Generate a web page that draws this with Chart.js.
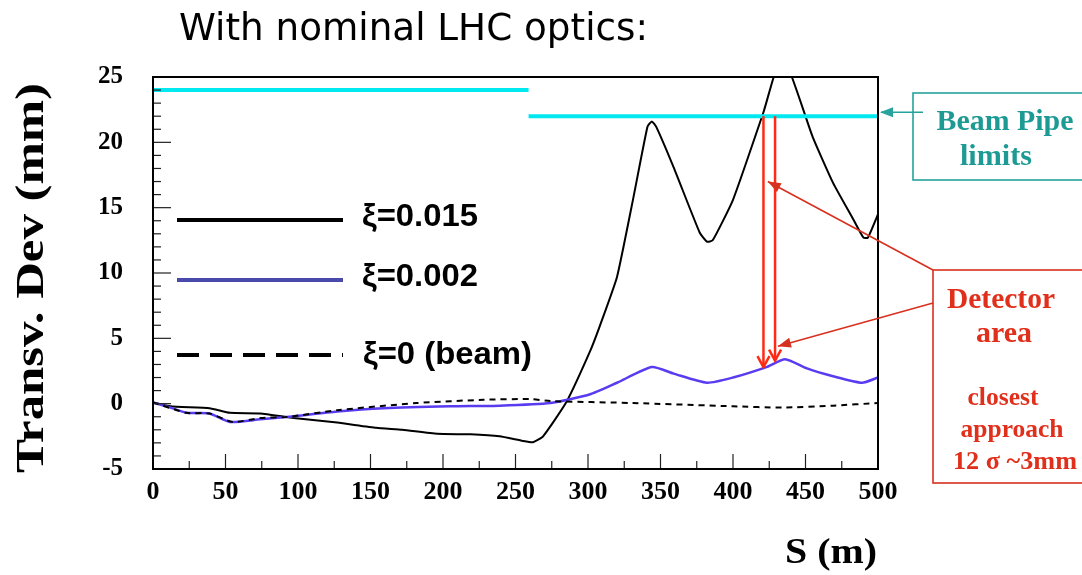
<!DOCTYPE html>
<html>
<head>
<meta charset="utf-8">
<script src="https://cdn.jsdelivr.net/npm/chart.js@4.4.1/dist/chart.umd.min.js"></script>
<style>
  html, body { margin: 0; padding: 0; background: #fff; }
  #wrap { width: 1082px; height: 575px; }
</style>
</head>
<body>
<div id="wrap"><canvas id="orbitChart" width="1082" height="575"></canvas></div>
<script>
// transverse deviation along S for each xi value
const s015 = [0, 12, 39, 53, 74, 97, 127, 154, 172, 196, 219, 239, 255, 262, 269, 285, 301, 308, 320, 331, 341, 344, 347, 359, 377, 382, 386, 400, 421, 434, 455, 469, 483, 490, 493, 500];
const dev015 = [0.1, -0.2, -0.35, -0.7, -0.75, -1.1, -1.45, -1.85, -2.0, -2.3, -2.35, -2.5, -2.85, -2.95, -2.5, 0.1, 3.9, 5.9, 9.7, 15.6, 21.2, 21.6, 21.2, 18.1, 13.1, 12.4, 12.5, 15.6, 22.3, 26.7, 20.4, 16.9, 14.1, 12.7, 12.7, 14.5];

const s002 = [0, 12, 23, 39, 53, 74, 94, 127, 159, 205, 239, 274, 301, 320, 344, 359, 382, 400, 423, 436, 451, 469, 489, 500];
const dev002 = [0.1, -0.3, -0.7, -0.75, -1.4, -1.2, -1.0, -0.6, -0.35, -0.2, -0.15, 0.05, 0.7, 1.6, 2.8, 2.3, 1.6, 2.0, 2.8, 3.4, 2.7, 2.1, 1.6, 2.0];

const sBeam = [0, 23, 39, 55, 74, 94, 127, 182, 228, 260, 274, 331, 400, 434, 469, 500];
const devBeam = [0.1, -0.7, -0.75, -1.4, -1.1, -1.0, -0.5, 0.05, 0.3, 0.35, 0.2, 0.05, -0.2, -0.3, -0.15, 0.05];

// beam pipe aperture (two sections)
const pipeS1 = [0, 259];
const pipeLimit1 = 24;
const pipeS2 = [259, 500];
const pipeLimit2 = 22;

// detector area arrows: from pipe limit down to the xi=0.002 orbit
const arrowS = [421, 429];
const arrowTop = [22, 22];
const arrowTip = [2.8, 3.3];
// where the callout lines touch the arrows
const calloutS = [424, 431];
const calloutDev = [17, 4.4];

const xTicks = [0, 50, 100, 150, 200, 250, 300, 350, 400, 450, 500];
const yTicks = [-5, 0, 5, 10, 15, 20, 25];
const minorS = 25;
const minorDev = 1;

const toPts = (xs, ys) => xs.map((x, i) => ({ x: x, y: ys[i] }));

function fitText(ctx, text, x, y, font, color, align, width) {
  ctx.save();
  ctx.font = font;
  ctx.fillStyle = color;
  ctx.textBaseline = 'alphabetic';
  ctx.textAlign = align;
  const k = width ? width / ctx.measureText(text).width : 1;
  ctx.translate(x, y);
  ctx.scale(k, 1);
  ctx.fillText(text, 0, 0);
  ctx.restore();
}

function seg(ctx, x1, y1, x2, y2) {
  ctx.beginPath();
  ctx.moveTo(x1, y1);
  ctx.lineTo(x2, y2);
  ctx.stroke();
}

function filledHead(ctx, fx, fy, tx, ty, len, half) {
  const a = Math.atan2(ty - fy, tx - fx);
  ctx.beginPath();
  ctx.moveTo(tx, ty);
  ctx.lineTo(tx - len * Math.cos(a) + half * Math.sin(a), ty - len * Math.sin(a) - half * Math.cos(a));
  ctx.lineTo(tx - len * Math.cos(a) - half * Math.sin(a), ty - len * Math.sin(a) + half * Math.cos(a));
  ctx.closePath();
  ctx.fill();
}

const decorations = {
  id: 'decorations',
  afterDatasetsDraw(chart) {
    const ctx = chart.ctx;
    const xs = chart.scales.x, ys = chart.scales.y, a = chart.chartArea;

    // inward ticks + frame
    ctx.save();
    ctx.strokeStyle = '#222';
    ctx.lineWidth = 1.2;
    for (let s = 0; s <= 500; s += minorS) {
      const px = xs.getPixelForValue(s);
      seg(ctx, px, a.bottom, px, a.bottom - (s % 50 === 0 ? 15 : 8));
    }
    for (let v = -5; v <= 25; v += minorDev) {
      const py = ys.getPixelForValue(v);
      seg(ctx, a.left, py, a.left + (v % 5 === 0 ? 18 : 8), py);
    }
    ctx.lineWidth = 2;
    ctx.strokeStyle = '#000';
    ctx.strokeRect(a.left, a.top, a.right - a.left, a.bottom - a.top);
    ctx.restore();

    // legend
    ctx.save();
    ctx.lineWidth = 4;
    ctx.strokeStyle = '#000';
    seg(ctx, 177, 220, 343, 220);
    ctx.strokeStyle = '#4a4aaa';
    seg(ctx, 177, 280, 343, 280);
    ctx.strokeStyle = '#000';
    ctx.setLineDash([22, 11]);
    seg(ctx, 177, 355, 343, 355);
    ctx.setLineDash([]);
    ctx.restore();
    fitText(ctx, 'ξ=0.015', 362, 226, 'bold 32px "Liberation Sans"', '#000', 'left', 116);
    fitText(ctx, 'ξ=0.002', 362, 286, 'bold 32px "Liberation Sans"', '#000', 'left', 116);
    fitText(ctx, 'ξ=0 (beam)', 363, 364, 'bold 32px "Liberation Sans"', '#000', 'left', 169);

    // detector arrows
    ctx.save();
    ctx.strokeStyle = '#ff2a14';
    ctx.lineWidth = 2.5;
    for (let i = 0; i < arrowS.length; i++) {
      const px = xs.getPixelForValue(arrowS[i]);
      const y1 = ys.getPixelForValue(arrowTop[i]);
      const y2 = ys.getPixelForValue(arrowTip[i]);
      seg(ctx, px, y1, px, y2);
      ctx.beginPath();
      ctx.moveTo(px - 6, y2 - 11);
      ctx.lineTo(px, y2);
      ctx.lineTo(px + 6, y2 - 11);
      ctx.stroke();
    }
    ctx.restore();

    // callouts
    ctx.save();
    ctx.strokeStyle = '#d8301e';
    ctx.fillStyle = '#d8301e';
    ctx.lineWidth = 1.6;
    const starts = [[933, 270], [933, 303]];
    for (let i = 0; i < calloutS.length; i++) {
      const tx = xs.getPixelForValue(calloutS[i]);
      const ty = ys.getPixelForValue(calloutDev[i]);
      seg(ctx, starts[i][0], starts[i][1], tx, ty);
      filledHead(ctx, starts[i][0], starts[i][1], tx, ty, 13, 5);
    }
    ctx.strokeRect(933, 270, 200, 213);

    ctx.strokeStyle = '#25a39c';
    ctx.fillStyle = '#25a39c';
    ctx.strokeRect(913, 93, 200, 87);
    const pipeY = ys.getPixelForValue(pipeLimit2) - 4;
    seg(ctx, 923, pipeY, a.right + 3, pipeY);
    filledHead(ctx, 923, pipeY, a.right + 2, pipeY, 13, 5);
    ctx.restore();

    fitText(ctx, 'Beam Pipe', 1005, 130, 'bold 30px "Liberation Serif"', '#1d9a94', 'center', 137);
    fitText(ctx, 'limits', 996, 165, 'bold 30px "Liberation Serif"', '#1d9a94', 'center', 72);
    fitText(ctx, 'Detector', 1001, 308, 'bold 29px "Liberation Serif"', '#e0301c', 'center', 108);
    fitText(ctx, 'area', 1004, 342, 'bold 29px "Liberation Serif"', '#e0301c', 'center', 56);
    fitText(ctx, 'closest', 1003, 405, 'bold 25px "Liberation Serif"', '#e0301c', 'center', 71);
    fitText(ctx, 'approach', 1012, 437, 'bold 25px "Liberation Serif"', '#e0301c', 'center', 103);
    fitText(ctx, '12 σ ~3mm', 1015, 469, 'bold 25px "Liberation Serif"', '#e0301c', 'center', 124);

    // titles
    fitText(ctx, 'With nominal LHC optics:', 179, 40, '37px "DejaVu Sans"', '#000', 'left', 469);
    fitText(ctx, 'S (m)', 877, 563, 'bold 36px "Liberation Serif"', '#000', 'right', 92);
    ctx.save();
    ctx.translate(43, 278);
    ctx.rotate(-Math.PI / 2);
    fitText(ctx, 'Transv. Dev (mm)', 0, 0, 'bold 40px "Liberation Serif"', '#000', 'center', 390);
    ctx.restore();
  }
};

new Chart(document.getElementById('orbitChart'), {
  type: 'line',
  data: {
    datasets: [
      {
        label: 'pipe 1',
        data: toPts(pipeS1, pipeS1.map(() => pipeLimit1)),
        borderColor: '#00e8f0',
        borderWidth: 4,
        pointRadius: 0
      },
      {
        label: 'pipe 2',
        data: toPts(pipeS2, pipeS2.map(() => pipeLimit2)),
        borderColor: '#00e8f0',
        borderWidth: 4,
        pointRadius: 0
      },
      {
        label: 'ξ=0 (beam)',
        data: toPts(sBeam, devBeam),
        borderColor: '#000',
        borderWidth: 2,
        borderDash: [6, 5],
        pointRadius: 0,
        tension: 0.2
      },
      {
        label: 'ξ=0.002',
        data: toPts(s002, dev002),
        borderColor: '#5a3cf0',
        borderWidth: 2.5,
        pointRadius: 0,
        tension: 0.2
      },
      {
        label: 'ξ=0.015',
        data: toPts(s015, dev015),
        borderColor: '#000',
        borderWidth: 2,
        pointRadius: 0,
        tension: 0.15
      }
    ]
  },
  options: {
    responsive: false,
    animation: false,
    devicePixelRatio: 1,
    layout: { padding: { left: 0, top: 77, right: 204, bottom: 0 } },
    plugins: {
      legend: { display: false },
      title: { display: false },
      tooltip: { enabled: false }
    },
    scales: {
      x: {
        type: 'linear',
        min: 0,
        max: 500,
        afterFit: s => { s.height = 106; },
        afterBuildTicks: s => { s.ticks = xTicks.map(v => ({ value: v })); },
        grid: { display: false, drawTicks: false },
        border: { display: false },
        ticks: {
          padding: 8,
          color: '#000',
          font: { family: 'Liberation Serif', size: 26, weight: 'bold' },
          maxRotation: 0
        }
      },
      y: {
        min: -5,
        max: 25,
        afterFit: s => { s.width = 153; },
        afterBuildTicks: s => { s.ticks = yTicks.map(v => ({ value: v })); },
        grid: { display: false, drawTicks: false },
        border: { display: false },
        ticks: {
          padding: 30,
          color: '#000',
          font: { family: 'Liberation Serif', size: 25, weight: 'bold' }
        }
      }
    }
  },
  plugins: [decorations]
});
</script>
</body>
</html>
